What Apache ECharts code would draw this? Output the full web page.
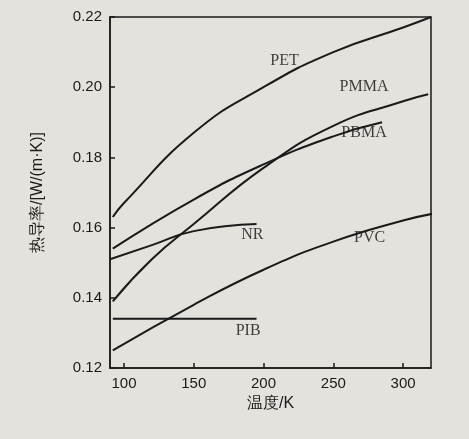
<!DOCTYPE html>
<html><head><meta charset="utf-8">
<script src="https://cdn.jsdelivr.net/npm/echarts@6/dist/echarts.min.js"></script>
<style>html,body{margin:0;background:#e4e2dd}#c{width:469px;height:439px}</style>
</head><body><div id="c"></div>
<script>
const xTicks = [100,150,200,250,300];
const PET  = [[92,0.163],[100,0.167],[150,0.187],[200,0.200],[250,0.210],[300,0.217],[320,0.220]];
const PMMA = [[92,0.139],[120,0.151],[150,0.161],[200,0.177],[250,0.189],[300,0.196],[318,0.198]];
const PBMA = [[92,0.154],[150,0.168],[200,0.178],[250,0.186],[285,0.190]];
const NR   = [[90,0.151],[120,0.155],[150,0.159],[195,0.161]];
const PVC  = [[92,0.125],[150,0.138],[200,0.148],[250,0.156],[300,0.162],[322,0.164]];
const PIB  = [[92,0.134],[195,0.134]];
const labels = [['PET',215,0.2075],['PMMA',272,0.2],['PBMA',272,0.187],['NR',192,0.158],['PVC',276,0.157],['PIB',189,0.1305]];
const series = [PET,PMMA,PBMA,NR,PVC,PIB].map(d=>({type:'line',data:d,smooth:true,showSymbol:false,lineStyle:{color:'#1a1a1a',width:2}}));
series.push({type:'scatter',symbolSize:0,data:labels.map(l=>({value:[l[1],l[2]],name:l[0]})),
  label:{show:true,formatter:p=>p.name,color:'#111',fontSize:16,fontFamily:'Liberation Serif',position:'inside'}});
const ax={color:'#1a1a1a',width:1.5};
const chart=echarts.init(document.getElementById('c'));
chart.setOption({
  backgroundColor:'#e4e2dd',
  grid:{left:110,right:38,top:17,bottom:71},
  xAxis:{type:'value',min:90,max:320,interval:50,name:'温度/K',nameLocation:'middle',nameGap:26,
    nameTextStyle:{fontSize:16,color:'#1a1a1a'},
    axisLine:{lineStyle:ax},splitLine:{show:false},
    axisLabel:{color:'#1a1a1a',fontSize:15,customValues:xTicks},axisTick:{inside:true,customValues:xTicks,lineStyle:ax}},
  yAxis:{type:'value',min:0.12,max:0.22,interval:0.02,name:'热导率/[W/(m·K)]',nameLocation:'middle',nameGap:64,
    nameTextStyle:{fontSize:16,color:'#1a1a1a'},
    axisLine:{lineStyle:ax},axisTick:{inside:true,lineStyle:ax},splitLine:{show:false},
    axisLabel:{color:'#1a1a1a',fontSize:15,formatter:v=>v.toFixed(2)}},
  series
});
chart.setOption({graphic:[{type:'rect',shape:{x:110,y:17,width:321,height:351},style:{fill:'none',stroke:'#1a1a1a',lineWidth:1.5},silent:true}]});
</script></body></html>
